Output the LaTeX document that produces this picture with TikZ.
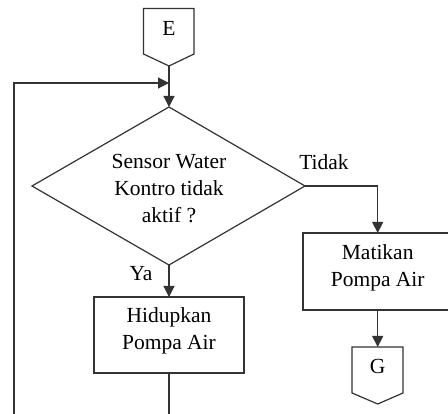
\documentclass[tikz,border=0pt]{standalone}
\usepackage{fontspec}
\setmainfont{Liberation Serif}
\usetikzlibrary{arrows.meta}
\begin{document}
\begin{tikzpicture}[x=1pt,y=-1pt,
  line/.style={draw=black!80,line width=1.2pt},
  arr/.style={line,-{Triangle[length=11pt,width=11pt]}},
  txt/.style={font=\fontsize{21.5}{27}\selectfont,align=center,inner sep=0pt}]
\useasboundingbox (0,0) rectangle (448,414);
\clip (0,0) rectangle (448,414);
\fill[white] (0,0) rectangle (448,414);

% off-page connector E
\draw[line] (143.5,8.5) -- (194,8.5) -- (194,54) -- (169,66) -- (143.5,54) -- cycle;
\node[txt] (E) at (169,28) {E};
\coordinate (Etip) at (169,66);

% decision
\coordinate (dT) at (169,107);
\coordinate (dL) at (32,186);
\coordinate (dR) at (305,186);
\coordinate (dB) at (169,265);
\draw[line] (dT) -- (dR) -- (dB) -- (dL) -- cycle;
\node[txt] (dec) at (169,189) {Sensor Water\\Kontro tidak\\aktif ?};

% process boxes
\draw[line] (94,297) rectangle (244,373);
\node[txt] (hid) at (169,330.5) {Hidupkan\\Pompa Air};
\coordinate (hidT) at (169,297);
\coordinate (hidB) at (169,373);

\draw[line] (303,233) rectangle (452,310);
\node[txt] (mat) at (377.7,267.5) {Matikan\\Pompa Air};
\coordinate (matT) at (377.7,233);
\coordinate (matB) at (377.7,310);

% off-page connector G
\draw[line] (352,347) -- (403,347) -- (403,393) -- (377.7,404) -- (352,393) -- cycle;
\node[txt] (G) at (377.7,366) {G};
\coordinate (gT) at (377.7,347);

% labels
\node[txt] (tidak) at (324,162) {Tidak};
\node[txt] (ya) at (141,274) {Ya};

% connectors
\coordinate (join) at (169,83);
\coordinate (loopL) at (14,83);
\coordinate (loopB) at (14,414);
\coordinate (hidEnd) at (169,414);
\coordinate (rTurn) at (377.7,186);

\draw[line] (Etip) -- (join);
\draw[arr] (join) -- (dT);
\draw[arr] (loopB) -- (loopL) -- (join);
\draw[arr] (dB) -- (hidT);
\draw[line] (hidB) -- (hidEnd);
\draw[arr] (dR) -- (rTurn) -- (matT);
\draw[arr] (matB) -- (gT);
\end{tikzpicture}
\end{document}
